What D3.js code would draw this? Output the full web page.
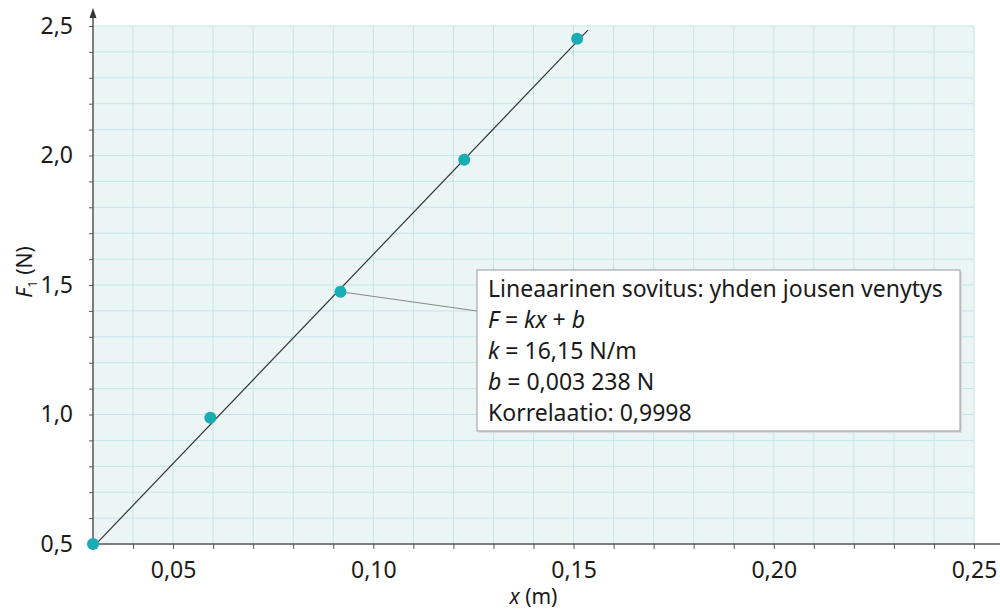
<!DOCTYPE html>
<html>
<head>
<meta charset="utf-8">
<script src="https://cdn.jsdelivr.net/npm/d3@7"></script>
<style>
  body { margin: 0; background: #fff; }
  text { font-family: "Noto Sans", sans-serif; fill: #1a1a1a; }
</style>
</head>
<body>
<div id="chart"></div>
<script>
// measured data: spring stretch x (m) vs force F1 (N)
const stretch = [0.0300, 0.0593, 0.0918, 0.1227, 0.1509];
const force = [0.500, 0.987, 1.474, 1.984, 2.451];

// fit line ends
const fitX = [0.0302, 0.1536];
const fitF = [0.491, 2.484];

const xTicks = [0.05, 0.10, 0.15, 0.20, 0.25];
const xTickLabels = ["0,05", "0,10", "0,15", "0,20", "0,25"];
const yTicks = [0.5, 1.0, 1.5, 2.0, 2.5];
const yTickLabels = ["0,5", "1,0", "1,5", "2,0", "2,5"];

const fitLines = [
  "Lineaarinen sovitus: yhden jousen venytys",
  "F = kx + b",
  "k = 16,15 N/m",
  "b = 0,003 238 N",
  "Korrelaatio: 0,9998"
];

let width = 1000, height = 610;
let margin = {top: 26, right: 26, bottom: 66, left: 93};

var svg = d3.select("#chart")
  .append("svg")
  .attr("width", width)
  .attr("height", height);

var x = d3.scaleLinear()
  .domain([0.03, 0.25])
  .range([margin.left, width - margin.right]);
var y = d3.scaleLinear()
  .domain([0.5, 2.5])
  .range([height - margin.bottom, margin.top]);

// plot background
svg.append("rect")
  .attr("x", x(0.03)).attr("y", y(2.5))
  .attr("width", x(0.25) - x(0.03))
  .attr("height", y(0.5) - y(2.5))
  .attr("fill", "#ebf5f4");

// grid every 0.01 m and 0.1 N
var xMinor = d3.range(0.04, 0.2501, 0.01);
var yMinor = d3.range(0.6, 2.501, 0.1);
svg.append("g").selectAll("line")
  .data(xMinor).join("line")
  .attr("x1", d => x(d)).attr("x2", d => x(d))
  .attr("y1", y(0.5)).attr("y2", y(2.5))
  .attr("stroke", "#c3e5e7").attr("stroke-width", 1);
svg.append("g").selectAll("line")
  .data(yMinor).join("line")
  .attr("x1", x(0.03)).attr("x2", x(0.25))
  .attr("y1", d => y(d)).attr("y2", d => y(d))
  .attr("stroke", "#c3e5e7").attr("stroke-width", 1);

// X axis
var xAxis = svg.append("g")
  .attr("transform", "translate(0," + y(0.5) + ")")
  .call(d3.axisBottom(x)
    .tickValues(d3.range(0.03, 0.2501, 0.01))
    .tickSize(5)
    .tickPadding(13)
    .tickFormat(d => {
      let i = xTicks.findIndex(t => Math.abs(t - d) < 1e-6);
      return i >= 0 ? xTickLabels[i] : "";
    }));
xAxis.select(".domain").remove();
xAxis.selectAll(".tick line").attr("stroke", "#555");
xAxis.selectAll("text").style("font-size", "23px").attr("fill", "#1a1a1a");
xAxis.append("line")
  .attr("x1", x(0.03)).attr("x2", 1000)
  .attr("stroke", "#555").attr("stroke-width", 1.5);

// Y axis
var yAxis = svg.append("g")
  .attr("transform", "translate(" + x(0.03) + ",0)")
  .call(d3.axisLeft(y)
    .tickValues(d3.range(0.5, 2.501, 0.1))
    .tickSize(4)
    .tickPadding(16)
    .tickFormat(d => {
      let i = yTicks.findIndex(t => Math.abs(t - d) < 1e-6);
      return i >= 0 ? yTickLabels[i] : "";
    }));
yAxis.select(".domain").remove();
yAxis.selectAll(".tick line").attr("stroke", "#555");
yAxis.selectAll("text").style("font-size", "23px").attr("fill", "#1a1a1a");
yAxis.append("line")
  .attr("y1", y(0.5)).attr("y2", 14)
  .attr("stroke", "#555").attr("stroke-width", 1.5);
yAxis.append("path")
  .attr("d", "M0,8 L-3.5,18 L3.5,18 Z")
  .attr("fill", "#333");

// axis titles
svg.append("text")
  .attr("x", x(0.14)).attr("y", 604)
  .attr("text-anchor", "middle")
  .style("font-size", "21px")
  .html('<tspan font-style="italic">x</tspan> (m)');
svg.append("text")
  .attr("transform", "translate(32," + y(1.55) + ") rotate(-90)")
  .attr("text-anchor", "middle")
  .style("font-size", "21px")
  .html('<tspan font-style="italic">F</tspan><tspan dy="5" style="font-size:13px">1</tspan><tspan dy="-5"> (N)</tspan>');

// fit line
svg.append("line")
  .attr("x1", x(fitX[0])).attr("y1", y(fitF[0]))
  .attr("x2", x(fitX[1])).attr("y2", y(fitF[1]))
  .attr("stroke", "#333").attr("stroke-width", 1.2);

// annotation box with leader to the middle point
let box = {x: 477, y: 270, w: 483, h: 161};
svg.append("line")
  .attr("x1", x(stretch[2])).attr("y1", y(force[2]))
  .attr("x2", box.x).attr("y2", 311)
  .attr("stroke", "#8a8a8a").attr("stroke-width", 1.2);
svg.append("rect")
  .attr("x", box.x + 2).attr("y", box.y + 2)
  .attr("width", box.w).attr("height", box.h)
  .attr("fill", "#d8dcdc");
svg.append("rect")
  .attr("x", box.x).attr("y", box.y)
  .attr("width", box.w).attr("height", box.h)
  .attr("fill", "#fff").attr("stroke", "#9a9a9a").attr("stroke-width", 1);

var note = svg.append("g");
note.selectAll("text")
  .data(fitLines).join("text")
  .attr("x", box.x + 11)
  .attr("y", (d, i) => 297 + i * 31)
  .style("font-size", "23px")
  .each(function(d, i) {
    let t = d3.select(this);
    if (i === 1) {
      t.html('<tspan font-style="italic">F</tspan> = <tspan font-style="italic">kx</tspan> + <tspan font-style="italic">b</tspan>');
    } else if (i === 2) {
      t.html('<tspan font-style="italic">k</tspan> = 16,15 N/m');
    } else if (i === 3) {
      t.html('<tspan font-style="italic">b</tspan> = 0,003 238 N');
    } else {
      t.text(d);
    }
  });

// data points
svg.append("g").selectAll("circle")
  .data(stretch).join("circle")
  .attr("cx", d => x(d))
  .attr("cy", (d, i) => y(force[i]))
  .attr("r", 6)
  .attr("fill", "#17adb3");
</script>
</body>
</html>
